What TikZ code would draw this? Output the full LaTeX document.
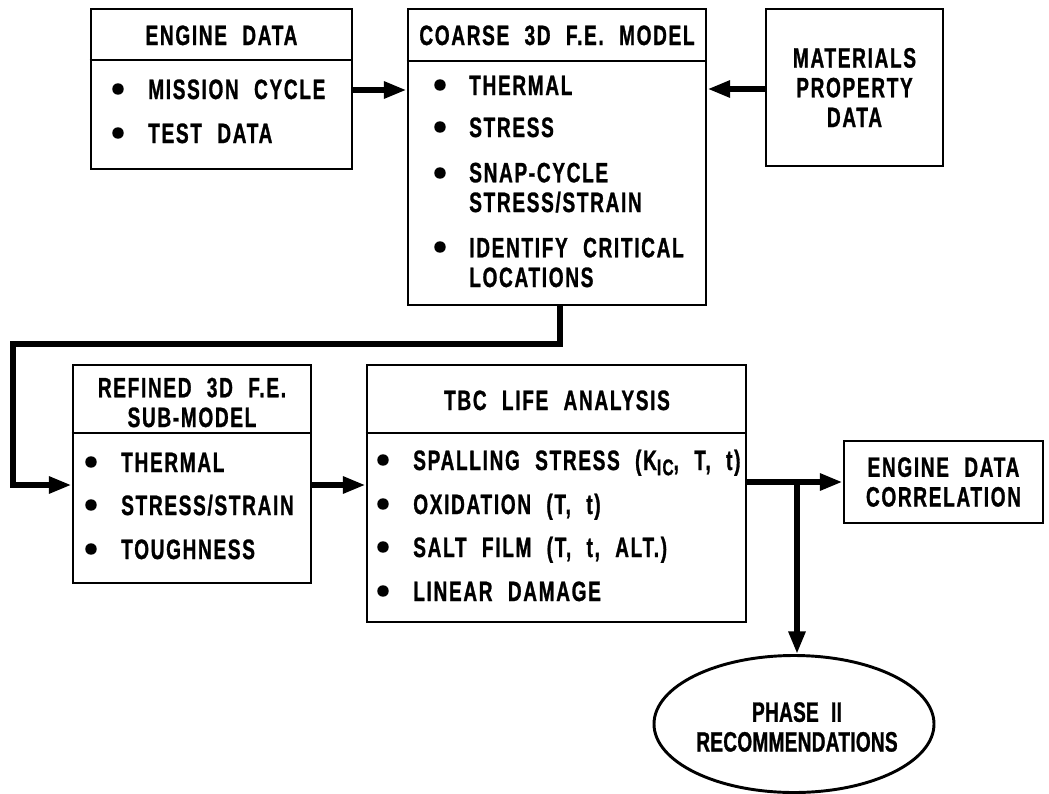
\documentclass[tikz,border=0pt]{standalone}
\usepackage{fontspec}
\newfontfamily\cond{Liberation Sans}[FakeStretch=0.68, FakeBold=1, LetterSpace=6, WordSpace=2.2]
\usetikzlibrary{arrows.meta, fit, shapes.geometric}

\begin{document}
\begin{tikzpicture}[x=0.75pt, y=-0.75pt,
    every node/.style={font=\cond\bfseries\fontsize{21}{22.3}\selectfont, inner sep=0pt},
    box/.style={draw, line width=2.2pt},
    txt/.style={anchor=base west, align=left},
    head/.style={anchor=base, align=center},
    flow/.style={line width=4.3pt, -{Triangle[length=17pt, width=12pt]}}]

  \useasboundingbox (0,0) rectangle (1049,793);

  % 1. Caixas principais
  \node[box, fit={(91,9) (352,169)}] (engine) {};
  \node[box, fit={(408,9) (706,305)}] (coarse) {};
  \node[box, minimum width=132.75pt, minimum height=117.75pt, align=center]
    (matl) at (854.5,87.5) {MATERIALS\\PROPERTY\\DATA};
  \node[box, fit={(73,365) (311,583)}] (refined) {};
  \node[box, fit={(367,365) (746,622)}] (tbc) {};
  \node[box, minimum width=149.25pt, minimum height=61.5pt, align=center]
    (corr) at (943.5,482) {ENGINE DATA\\CORRELATION};
  \node[box, ellipse, minimum width=210pt, minimum height=102.75pt]
    (phase) at (794,724) {};
  \node[align=center, font=\cond\bfseries\fontsize{21}{22.3}\selectfont\addfontfeatures{LetterSpace=1}]
    (phaseT) at (797,727) {PHASE II\\RECOMMENDATIONS};

  % 2. Cabeçalhos e linhas divisórias
  \draw[line width=2.2pt] (engine.west |- 0,60) -- (engine.east |- 0,60);
  \draw[line width=2.2pt] (coarse.west |- 0,61) -- (coarse.east |- 0,61);
  \draw[line width=2.2pt] (refined.west |- 0,433) -- (refined.east |- 0,433);
  \draw[line width=2.2pt] (tbc.west |- 0,433) -- (tbc.east |- 0,433);
  \node[head] (engineH) at (221.5,45) {ENGINE DATA};
  \node[head] (coarseH) at (557,45) {COARSE 3D F.E. MODEL};
  \node[head] (refinedH) at (192,427) {REFINED 3D F.E.\\SUB-MODEL}; % base = última linha
  \node[head] (tbcH) at (557,410) {TBC LIFE ANALYSIS};

  % 3. Itens com marcadores (\y = linha de base da última linha, \b = marcador)
  \foreach \b/\y/\t [count=\i] in {89/99/MISSION CYCLE, 133/143/TEST DATA} {
    \fill (118,\b) circle[radius=4.3pt];
    \node[txt] (engine\i) at (148,\y) {\t};
  }
  \foreach \b/\y/\t [count=\i] in {85/95/THERMAL, 127/137/STRESS,
      173/212/{SNAP-CYCLE\\STRESS/STRAIN}, 247/287/{IDENTIFY CRITICAL\\LOCATIONS}} {
    \fill (440,\b) circle[radius=4.3pt];
    \node[txt] (coarse\i) at (469,\y) {\t};
  }
  \foreach \b/\y/\t [count=\i] in {462/472/THERMAL, 505/515/{STRESS/STRAIN}, 549/559/TOUGHNESS} {
    \fill (91,\b) circle[radius=4.3pt];
    \node[txt] (refined\i) at (121,\y) {\t};
  }
  \foreach \b/\y/\t [count=\i] in {
      460/470/{SPALLING STRESS (K\raisebox{-0.35ex}{\fontsize{17}{17}\selectfont IC}, T, t)},
      504/514/{OXIDATION (T, t)}, 547/557/{SALT FILM (T, t, ALT.)}, 591/601/LINEAR DAMAGE} {
    \fill (383,\b) circle[radius=4.3pt];
    \node[txt] (tbc\i) at (413,\y) {\t};
  }

  % 4. Conectores
  \draw[flow] (engine.east |- 0,90) -- (coarse.west |- 0,90);
  \draw[flow] (matl.west |- 0,89) -- (coarse.east |- 0,89);
  \draw[flow] (coarse.south -| 560,0) -- (560,344) -- (13,344) -- (13,485)
    -- (refined.west |- 0,485);
  \draw[flow] (refined.east |- 0,485) -- (tbc.west |- 0,485);
  \draw[flow] (tbc.east |- 0,482) -- (corr.west |- 0,482);
  \coordinate (split) at (797,482);
  \draw[flow] (split) -- (split |- phase.north);
\end{tikzpicture}
\end{document}
